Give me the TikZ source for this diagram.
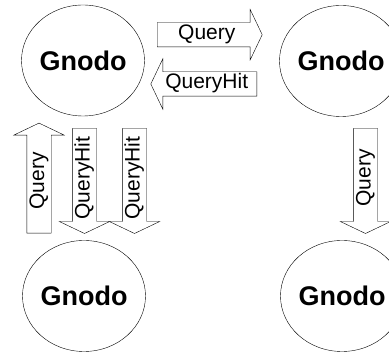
\documentclass[tikz,border=0pt]{standalone}
\usepackage{fontspec}
\setmainfont{Liberation Sans}
\usepackage{tikz}
\usetikzlibrary{shapes.geometric}
\usetikzlibrary{shapes.arrows}

\tikzset{
  gnodo/.style={ellipse,draw=black,minimum width=101pt,minimum height=111pt,
    inner sep=0pt,font=\fontsize{27}{30}\selectfont\bfseries},
  msg/.style={single arrow,draw=black,fill=white,
    font=\fontsize{21}{24}\selectfont,text height=14.5pt,text depth=4.5pt,
    inner ysep=2.5pt,inner xsep=2pt,single arrow head extend=13pt,
    single arrow tip angle=129,minimum height=105pt},
  goesdown/.style={rotate=90,shape border rotate=180},
}

\begin{document}
\begin{tikzpicture}[x=1pt,y=-1pt]
  \useasboundingbox (0,0) rectangle (389,352);
  % the four peers
  \node[gnodo] (G1) at (83,60.5) {Gnodo};
  \node[gnodo] (G2) at (341,61) {Gnodo};
  \node[gnodo] (G3) at (84,296) {Gnodo};
  \node[gnodo] (G4) at (342,296) {Gnodo};
  % messages between them
  \node[msg,anchor=tail] (Q1) at (157,34.7) {Query};
  \node[msg,shape border rotate=180,anchor=tail,minimum height=106pt] (H1) at (257,84) {QueryHit};
  \node[msg,rotate=90,anchor=tail,minimum height=110pt] (Q2) at (39,233.3) {Query};
  \node[msg,goesdown,anchor=tail] (H2) at (84.5,128.3) {QueryHit};
  \node[msg,goesdown,anchor=tail] (H3) at (134.5,128.3) {QueryHit};
  \node[msg,goesdown,anchor=tail] (Q3) at (365.5,128.3) {Query};
\end{tikzpicture}
\end{document}
